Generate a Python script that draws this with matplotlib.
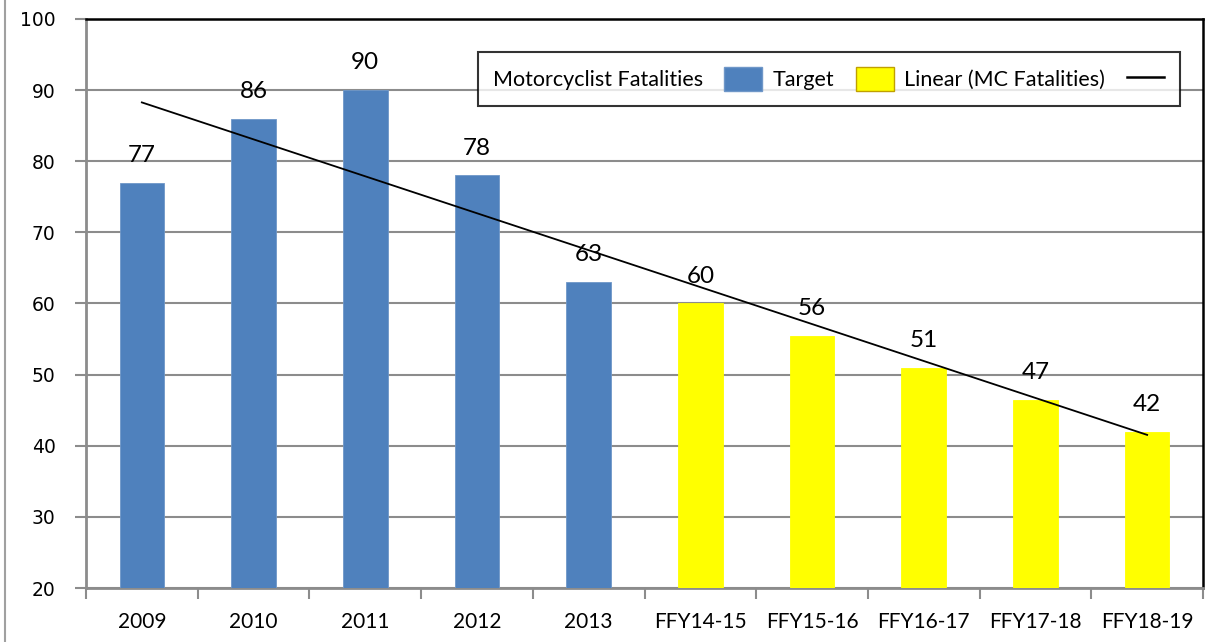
import numpy as np
import matplotlib
matplotlib.use("Agg")
import matplotlib.pyplot as plt
from matplotlib.patches import Patch
from matplotlib.lines import Line2D

# data
categories = ["2009", "2010", "2011", "2012", "2013",
              "FFY14-15", "FFY15-16", "FFY16-17", "FFY17-18", "FFY18-19"]
fatalities = [77, 86, 90, 78, 63]
targets = [60, 55.5, 51, 46.5, 42]
bar_labels = ["77", "86", "90", "78", "63", "60", "56", "51", "47", "42"]

blue = "#4F81BD"
yellow = "#FFFF00"
grid_gray = "#8C8C8C"

fig = plt.figure(figsize=(12.27, 6.42), dpi=100)
ax = fig.add_axes([86 / 1227, 1 - 588 / 642, (1203 - 86) / 1227, (588 - 19) / 642])

x = np.arange(len(categories))
n_hist = len(fatalities)
ax.bar(x[:n_hist], fatalities, width=0.4, color=blue, edgecolor="#6F97C8",
       linewidth=0.6, zorder=3)
ax.bar(x[n_hist:], targets, width=0.4, color=yellow, edgecolor=yellow,
       linewidth=0.6, zorder=3)

all_vals = fatalities + targets
for xi, v, lab in zip(x, all_vals, bar_labels):
    ax.annotate(lab, (xi, v), xytext=(0, 12), textcoords="offset points",
                ha="center", va="bottom", fontsize=17.5, family="Lato", zorder=5)

# linear trend over all ten values
slope, intercept = np.polyfit(x, all_vals, 1)
ax.plot(x, slope * x + intercept, color="black", linewidth=1.3, zorder=4)

ax.set_xlim(-0.5, len(categories) - 0.5)
ax.set_ylim(20, 100)
ax.set_yticks(range(20, 101, 10))
ax.yaxis.grid(True, color=grid_gray, linewidth=1.5, zorder=0)
ax.set_axisbelow(True)

ax.set_xticks(np.arange(-0.5, len(categories), 1.0))
ax.set_xticklabels([])
ax.set_xticks(x, minor=True)
ax.set_xticklabels(categories, minor=True, family="Lato", fontsize=15)
ax.tick_params(axis="x", which="minor", length=0, pad=17)
ax.tick_params(axis="x", which="major", length=8, color=grid_gray, width=1.5, direction="out")
ax.tick_params(axis="y", length=8, color=grid_gray, width=1.5, direction="out",
               labelsize=13.5, pad=14)
for lab in ax.get_yticklabels():
    lab.set_family("DejaVu Sans")

ax.spines["left"].set_color(grid_gray)
ax.spines["bottom"].set_color(grid_gray)
ax.spines["left"].set_linewidth(2)
ax.spines["bottom"].set_linewidth(2)
ax.spines["top"].set_color("black")
ax.spines["right"].set_color("black")
ax.spines["top"].set_linewidth(1.8)
ax.spines["right"].set_linewidth(1.8)

handles = [Patch(facecolor=blue, edgecolor="#6F97C8"),
           Patch(facecolor=yellow, edgecolor="#C0A000"),
           Line2D([0], [0], color="black", linewidth=1.8)]
labels = ["Motorcyclist Fatalities", "Target", "Linear (MC Fatalities)"]
leg = ax.legend(handles, labels, ncol=3, markerfirst=False, loc="upper right",
                bbox_to_anchor=(0.979, 0.942), frameon=True, fancybox=False,
                prop={"family": "Lato", "size": 15.5}, handlelength=1.75,
                handleheight=1.3, columnspacing=0.5, handletextpad=1.0,
                borderpad=0.7, borderaxespad=0)
leg.get_frame().set_edgecolor("black")
leg.get_frame().set_linewidth(1.5)
leg.set_zorder(6)

# thin gray border line at the left edge of the figure
fig.add_artist(Line2D([5 / 1227, 5 / 1227], [0, 1], color="#A0A0A0",
                      linewidth=1.5, transform=fig.transFigure))

fig.savefig("out.png", dpi=100)
